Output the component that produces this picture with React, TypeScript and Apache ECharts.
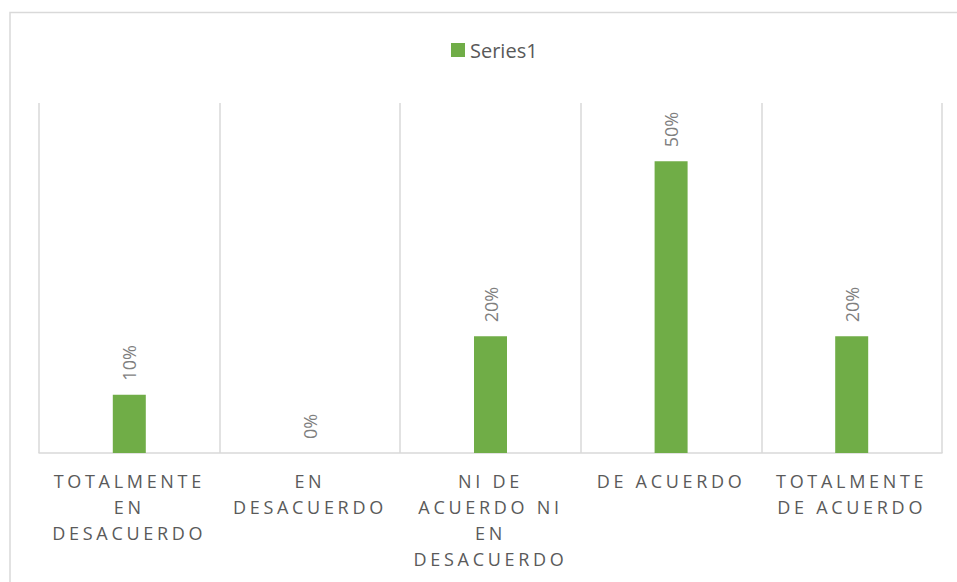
import React, { useEffect, useRef } from "react";
import * as echarts from "echarts";

const categories = [
  "TOTALMENTE EN DESACUERDO",
  "EN DESACUERDO",
  "NI DE ACUERDO NI EN DESACUERDO",
  "DE ACUERDO",
  "TOTALMENTE DE ACUERDO",
];
const series1 = [0.1, 0, 0.2, 0.5, 0.2];
const seriesName = "Series1";

const AXIS_LABEL_COLOR = "#5a5a5a";

function wrap(text: string, maxChars: number): string {
  const words = text.split(" ");
  const lines: string[] = [];
  let cur = "";
  for (const w of words) {
    const next = cur ? cur + " " + w : w;
    if (next.length > maxChars && cur) {
      lines.push(cur);
      cur = w;
    } else {
      cur = next;
    }
  }
  if (cur) lines.push(cur);
  return lines.join("\n");
}

export default function App() {
  const ref = useRef<HTMLDivElement>(null);

  useEffect(() => {
    document.body.style.margin = "0";
    if (!ref.current) return;
    const chart = echarts.init(ref.current, undefined, { renderer: "svg" });
    chart.setOption({
      animation: false,
      backgroundColor: "#ffffff",
      graphic: [
        {
          type: "rect",
          z: -10,
          shape: { x: 10, y: 12.5, width: 1200, height: 1000 },
          style: { fill: "none", stroke: "#d9d9d9", lineWidth: 1.5 },
        },
      ],
      legend: {
        data: [seriesName],
        left: 451,
        top: 40,
        padding: 0,
        icon: "rect",
        itemWidth: 14,
        itemHeight: 14,
        textStyle: { fontFamily: "Open Sans", fontSize: 20, color: "#595959" },
      },
      grid: { left: 39, right: 15, top: 103, bottom: 129, containLabel: false },
      xAxis: {
        type: "category",
        data: categories,
        axisLine: { show: true, lineStyle: { color: "#d9d9d9", width: 1.5 } },
        axisTick: { show: false },
        splitLine: { show: true, lineStyle: { color: "#d9d9d9", width: 1.5 } },
        axisLabel: {
          interval: 0,
          margin: 15,
          fontFamily: "Open Sans",
          fontSize: 18,
          lineHeight: 26,
          color: AXIS_LABEL_COLOR,
          align: "center",
          formatter: (v: string) => wrap(v, 10),
        },
      },
      yAxis: {
        type: "value",
        min: 0,
        max: 0.6,
        show: false,
        splitLine: { show: false },
      },
      series: [
        {
          name: seriesName,
          type: "bar",
          data: series1,
          barWidth: 33,
          itemStyle: { color: "#70AD47" },
          label: {
            show: true,
            position: "top",
            rotate: 90,
            align: "left",
            verticalAlign: "middle",
            distance: 14,
            fontFamily: "Open Sans",
            fontSize: 18,
            color: "#7f7f7f",
            formatter: (p: any) => Math.round(p.value * 100) + "%",
          },
        },
      ],
    });
    return () => chart.dispose();
  }, []);

  return (
    <>
      <style>{`text[fill="${AXIS_LABEL_COLOR}"], text[fill="rgb(90,90,90)"] { letter-spacing: 3.7px; }`}</style>
      <div ref={ref} style={{ width: 957, height: 582 }} />
    </>
  );
}
